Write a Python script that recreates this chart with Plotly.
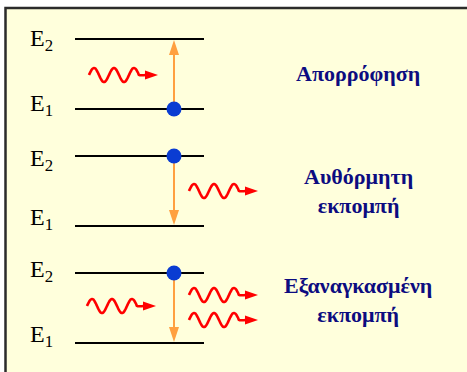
import numpy as np
import plotly.graph_objects as go

# ── Palette ───────────────────────────────────────────────────────────────────
BG      = "#FFFFDC"
FRAME   = "#2B2B2B"
LEVEL   = "#000000"
ARROW   = "#FFA040"
DOT     = "#0A3CD2"
PHOTON  = "#FF0000"
NAVY    = "#0C0C80"
SERIF   = "Liberation Serif"

# ── Diagram content (pixel space, y grows downward) ───────────────────────────
PROCESS_LABELS = ["Απορρόφηση", "Αυθόρμητη<br>εκπομπή", "Εξαναγκασμένη<br>εκπομπή"]
UPPER_Y = [39, 156, 273]          # E2 level of each panel
LOWER_Y = [109, 226, 343]         # E1 level of each panel
UPPER_LABEL_Y = [40, 160, 271]
LOWER_LABEL_Y = [105, 219, 336]
LABEL_Y = [73, 191, 300]          # process label centre
ELECTRON_ON = ["lower", "upper", "upper"]
TRANSITION = ["up", "down", "down"]
# photons: (start x, centre y)
PHOTON_START = [89, 189, 87, 189, 189]
PHOTON_Y     = [75, 191, 306, 295, 320]

LINE_X0, LINE_X1 = 75, 204
ELECTRON_X = 174
W, H = 467, 372

fig = go.Figure()

# background panel with frame (right / bottom edges fall outside the view)
fig.add_shape(type="rect", x0=5.5, y0=8, x1=480, y1=390,
              fillcolor=BG, line=dict(color=FRAME, width=2.5), layer="below")

# ── energy levels & labels ────────────────────────────────────────────────────
for yu, yl, lu, ll in zip(UPPER_Y, LOWER_Y, UPPER_LABEL_Y, LOWER_LABEL_Y):
    for y in (yu, yl):
        fig.add_trace(go.Scatter(x=[LINE_X0, LINE_X1], y=[y, y], mode="lines",
                                 line=dict(color=LEVEL, width=2), hoverinfo="skip"))
    for y, sub in ((lu, "2"), (ll, "1")):
        fig.add_annotation(x=28, y=y, text=f"E<sub>{sub}</sub>", showarrow=False,
                           xanchor="left", yanchor="middle",
                           font=dict(family=SERIF, size=24, color="#000000"))

# ── transitions (orange arrows) ──────────────────────────────────────────────
HEAD_L, HEAD_W = 15, 10
for yu, yl, d in zip(UPPER_Y, LOWER_Y, TRANSITION):
    if d == "up":
        start, tip, sgn = yl, yu + 1, 1
    else:
        start, tip, sgn = yu, yl - 1, -1
    base = tip + sgn * HEAD_L
    fig.add_trace(go.Scatter(x=[ELECTRON_X, ELECTRON_X], y=[start, base], mode="lines",
                             line=dict(color=ARROW, width=2), hoverinfo="skip"))
    fig.add_shape(type="path",
                  path=f"M {ELECTRON_X - HEAD_W/2},{base} L {ELECTRON_X + HEAD_W/2},{base} "
                       f"L {ELECTRON_X},{tip} Z",
                  fillcolor=ARROW, line=dict(width=0))

# ── electrons ────────────────────────────────────────────────────────────────
ex = [ELECTRON_X] * 3
ey = [yl if pos == "lower" else yu for yu, yl, pos in zip(UPPER_Y, LOWER_Y, ELECTRON_ON)]
fig.add_trace(go.Scatter(x=ex, y=ey, mode="markers",
                         marker=dict(color=DOT, size=15, line=dict(width=0)),
                         hoverinfo="skip"))

# ── photons (wavy arrows) ────────────────────────────────────────────────────
PERIOD, AMP = 20, 7
for x0, yc in zip(PHOTON_START, PHOTON_Y):
    t = np.linspace(0, 2.5 * PERIOD, 80)
    wx = list(x0 + t) + [x0 + 2.5 * PERIOD + 7]
    wy = list(yc - AMP * np.sin(2 * np.pi * t / PERIOD)) + [yc]
    fig.add_trace(go.Scatter(x=wx, y=wy, mode="lines",
                             line=dict(color=PHOTON, width=2.6, shape="spline"),
                             hoverinfo="skip"))
    hx = x0 + 2.5 * PERIOD + 6
    fig.add_shape(type="path",
                  path=f"M {hx},{yc - 4.5} L {hx},{yc + 4.5} L {hx + 13},{yc} Z",
                  fillcolor=PHOTON, line=dict(width=0))

# ── process labels ───────────────────────────────────────────────────────────
for txt, y in zip(PROCESS_LABELS, LABEL_Y):
    fig.add_annotation(x=358, y=y, text=f"<b>{txt}</b>", showarrow=False,
                       xanchor="center", yanchor="middle", align="center",
                       font=dict(family=SERIF, size=22, color=NAVY))

fig.update_layout(
    width=W, height=H,
    margin=dict(l=0, r=0, t=0, b=0),
    paper_bgcolor="white", plot_bgcolor="white",
    showlegend=False,
)
fig.update_xaxes(range=[0, W], visible=False, fixedrange=True)
fig.update_yaxes(range=[H, 0], visible=False, fixedrange=True)

# drop the default page margin so the figure sits at the window origin
fig.write_html("out.html",
               config={"displayModeBar": False},
               post_script="document.body.style.margin='0';document.body.style.overflow='hidden';")
